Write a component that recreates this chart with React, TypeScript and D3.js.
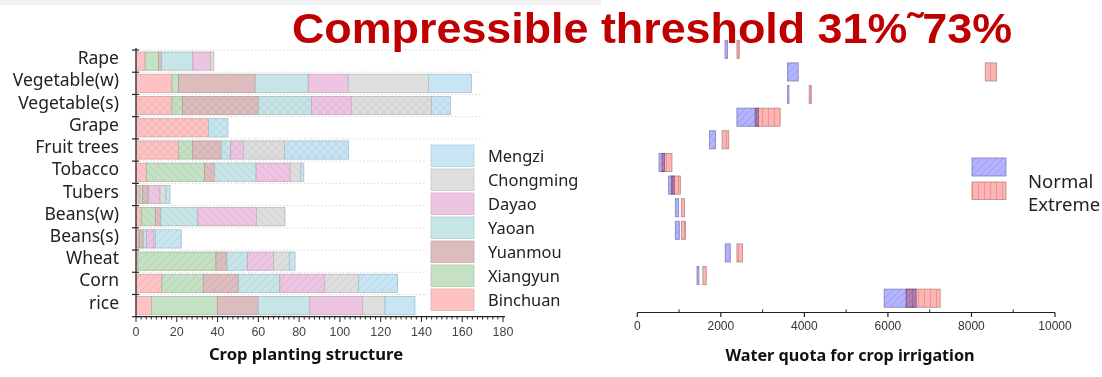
import React from "react";
import * as d3 from "d3";

const crops = ["Rape", "Vegetable(w)", "Vegetable(s)", "Grape", "Fruit trees", "Tobacco", "Tubers", "Beans(w)", "Beans(s)", "Wheat", "Corn", "rice"];
const regions = ["Binchuan", "Xiangyun", "Yuanmou", "Yaoan", "Dayao", "Chongming", "Mengzi"];

const binchuan = [4.5, 17.6, 17.6, 35.6, 20.9, 5.2, 1.6, 2.6, 1.3, 1.0, 12.7, 7.6];
const xiangyun = [6.5, 3.3, 5.2, 0, 6.9, 28.4, 1.6, 7.0, 0.3, 38.2, 20.3, 32.3];
const yuanmou = [1.6, 37.6, 37.3, 0, 14.0, 4.9, 2.5, 2.6, 2.0, 5.4, 17.2, 20.0];
const yaoan = [15.3, 26.0, 26.1, 0, 4.7, 20.4, 0.5, 18.1, 1.6, 10.0, 20.3, 25.4];
const dayao = [8.7, 19.6, 19.6, 0, 6.2, 16.7, 5.6, 28.8, 3.6, 12.9, 21.9, 25.9];
const chongming = [1.6, 39.4, 39.2, 0, 20.1, 5.2, 2.9, 14.0, 0.7, 7.7, 16.8, 10.9];
const mengzi = [0, 21.0, 9.2, 9.5, 31.5, 1.5, 2.0, 0, 12.7, 2.8, 19.1, 14.7];
const regionValues = [binchuan, xiangyun, yuanmou, yaoan, dayao, chongming, mengzi];

const hatchTypes = ["none", "none", "cross", "cross", "cross", "back", "back", "back", "fwd", "fwd", "fwd", "none"];

const leftTicks = [0, 20, 40, 60, 80, 100, 120, 140, 160, 180];

// Water quota ranges [min, max]
const normalMin = [2100, 3596, 3600, 2385, 1730, 520, 750, 910, 910, 2105, 1430, 5910];
const normalMax = [2160, 3852, 3630, 2900, 1870, 650, 885, 990, 1005, 2225, 1475, 6675];
const extremeMin = [2385, 8330, 4115, 2820, 2030, 590, 815, 1055, 1055, 2385, 1570, 6435];
const extremeMax = [2440, 8600, 4165, 3420, 2190, 830, 1030, 1130, 1155, 2520, 1650, 7250];
const rightTicks = [0, 2000, 4000, 6000, 8000, 10000];

const regionColors = ["#ffc2c2", "#c4e1c4", "#dcbcbc", "#c7e4e6", "#edc5e2", "#dedede", "#c8e5f3"];

export default function App() {
  const W = 1102, H = 377;
  const x = d3.scaleLinear().domain([0, 180]).range([136, 503]);
  const y = d3.scaleBand<string>().domain(crops).range([50, 316.7]).paddingInner(0.18).paddingOuter(0.09);
  const step = (316.7 - 50) / crops.length;

  const table = crops.map((c, i) => {
    const o: any = { crop: c };
    regions.forEach((r, j) => (o[r] = regionValues[j][i]));
    return o;
  });
  const stacked = d3.stack().keys(regions)(table as any);

  const xr = d3.scaleLinear().domain([0, 10000]).range([637.3, 1055]);
  const yr = d3.scaleBand<string>().domain(crops).range([35.75, 311.75]).padding(0.2);

  const hatchLines = (type: string, stroke: string) => {
    const s = 8;
    const els: any[] = [];
    if (type === "back" || type === "cross") {
      els.push(<path key="b" d={`M0,0 L${s},${s} M${-s / 2},${s / 2} L${s / 2},${s * 1.5} M${s / 2},${-s / 2} L${s * 1.5},${s / 2}`} stroke={stroke} strokeWidth={0.6} />);
    }
    if (type === "fwd" || type === "cross") {
      els.push(<path key="f" d={`M0,${s} L${s},0 M${-s / 2},${s / 2} L${s / 2},${-s / 2} M${s / 2},${s * 1.5} L${s * 1.5},${s / 2}`} stroke={stroke} strokeWidth={0.6} />);
    }
    return els;
  };

  const patterns: any[] = [];
  ["back", "fwd", "cross"].forEach((t) => {
    regionColors.forEach((c, j) => {
      const dark = d3.color(c)!.darker(0.9).formatHex();
      patterns.push(
        <pattern key={`p-${t}-${j}`} id={`p-${t}-${j}`} width={8} height={8} patternUnits="userSpaceOnUse">
          <rect width={8} height={8} fill={c} />
          <g opacity={0.45}>{hatchLines(t, dark)}</g>
        </pattern>
      );
    });
  });

  const minorLeft = d3.range(0, 180.01, 2.5);
  const minorRight = d3.range(1000, 10000, 2000);
  const font = "'Noto Sans', 'Open Sans', sans-serif";
  const arial = "'Liberation Sans', Arial, sans-serif";

  return (
    <svg width={W} height={H} style={{ position: "absolute", left: 0, top: 0, background: "#fff" }}>
      <defs>
        {patterns}
        <pattern id="blueHatch" width={7} height={7} patternUnits="userSpaceOnUse">
          <rect width={7} height={7} fill="#b3b3ff" />
          <path d="M0,7 L7,0 M-3.5,3.5 L3.5,-3.5 M3.5,10.5 L10.5,3.5" stroke="#6a6ad0" strokeWidth={0.6} opacity={0.6} />
        </pattern>
        <pattern id="redHatch" width={6} height={6} patternUnits="userSpaceOnUse">
          <rect width={6} height={6} fill="#ffb3b3" />
          <path d="M0.5,0 L0.5,6" stroke="#d88484" strokeWidth={0.8} opacity={0.8} />
        </pattern>
      </defs>
      <rect x={0} y={0} width={601} height={5} fill="#f1f1f3" />

      {/* Left chart gridlines */}
      {d3.range(0, crops.length).map((i) => (
        <line key={`g${i}`} x1={136} x2={482} y1={50 + i * step} y2={50 + i * step} stroke="#cfcfcf" strokeWidth={0.8} strokeDasharray="1.5,2" />
      ))}

      {/* Stacked bars */}
      {stacked.map((layer, j) => (
        <g key={regions[j]}>
          {layer.map((d, i) => {
            const w = x(d[1]) - x(d[0]);
            if (w <= 0) return null;
            const t = hatchTypes[i];
            const fill = t === "none" ? regionColors[j] : `url(#p-${t}-${j})`;
            return (
              <rect key={i} x={x(d[0])} y={y(crops[i])} width={w} height={y.bandwidth()} fill={fill}
                stroke={d3.color(regionColors[j])!.darker(0.5).formatHex()} strokeWidth={0.8} />
            );
          })}
        </g>
      ))}

      {/* Left y axis */}
      <line x1={136} x2={136} y1={48} y2={316.7} stroke="#222" strokeWidth={1.2} />
      {d3.range(0, crops.length + 1).map((i) => (
        <line key={`yt${i}`} x1={132} x2={139} y1={50 + i * step} y2={50 + i * step} stroke="#222" strokeWidth={1.2} />
      ))}
      {crops.map((c) => (
        <text key={c} x={119} y={(y(c) as number) + y.bandwidth() / 2 - 3} dy="0.35em" textAnchor="end" fontFamily={font} fontSize={17.5} fill="#222">{c}</text>
      ))}

      {/* Left x axis */}
      <line x1={136} x2={505} y1={316.7} y2={316.7} stroke="#222" strokeWidth={1.2} />
      {minorLeft.map((v) => (
        <line key={`m${v}`} x1={x(v)} x2={x(v)} y1={316.7} y2={v % 20 === 0 ? 322 : 319.5} stroke="#222" strokeWidth={1} />
      ))}
      {leftTicks.map((v) => (
        <text key={`lt${v}`} x={x(v)} y={336} textAnchor="middle" fontFamily={arial} fontSize={12.5} fill="#444">{v}</text>
      ))}
      <text x={306} y={360} textAnchor="middle" fontFamily={font} fontWeight="bold" fontSize={16.6} fill="#111">Crop planting structure</text>

      {/* Left legend */}
      <rect x={427} y={142} width={160} height={172} fill="#fff" />
      {regions.slice().reverse().map((r, k) => {
        const j = regions.length - 1 - k;
        const top = 145 + k * 24;
        return (
          <g key={r}>
            <rect x={431} y={top} width={43} height={21.5} fill={regionColors[j]} stroke={d3.color(regionColors[j])!.darker(0.3).formatHex()} strokeWidth={0.8} />
            <text x={488} y={top + 11} dy="0.35em" fontFamily={font} fontSize={16.4} fill="#222">{r}</text>
          </g>
        );
      })}

      {/* Right chart: water quota ranges */}
      {crops.map((c, i) => (
        <g key={`r${c}`}>
          <rect x={xr(normalMin[i])} y={yr(c)} width={Math.max(1, xr(normalMax[i]) - xr(normalMin[i]))} height={yr.bandwidth()}
            fill="url(#blueHatch)" stroke="#8080b0" strokeWidth={0.8} />
          <rect x={xr(extremeMin[i])} y={yr(c)} width={Math.max(1, xr(extremeMax[i]) - xr(extremeMin[i]))} height={yr.bandwidth()}
            fill="url(#redHatch)" stroke="#b08a8a" strokeWidth={0.8} style={{ mixBlendMode: "multiply" }} />
        </g>
      ))}

      {/* Right x axis */}
      <line x1={637.3} x2={1055} y1={312.5} y2={312.5} stroke="#222" strokeWidth={1.2} />
      {rightTicks.map((v) => (
        <line key={`rt${v}`} x1={xr(v)} x2={xr(v)} y1={312.5} y2={317} stroke="#222" strokeWidth={1.2} />
      ))}
      {minorRight.map((v) => (
        <line key={`rm${v}`} x1={xr(v)} x2={xr(v)} y1={312.5} y2={309.5} stroke="#222" strokeWidth={1} />
      ))}
      {rightTicks.map((v) => (
        <text key={`rl${v}`} x={xr(v)} y={330} textAnchor="middle" fontFamily={arial} fontSize={12} fill="#333">{v}</text>
      ))}
      <text x={850} y={361} textAnchor="middle" fontFamily={font} fontWeight="bold" fontSize={16.2} fill="#111">Water quota for crop irrigation</text>

      {/* Right legend */}
      <rect x={972} y={158} width={34} height={18} fill="url(#blueHatch)" stroke="#8080b0" strokeWidth={0.8} />
      <rect x={972} y={182} width={34} height={17.5} fill="url(#redHatch)" stroke="#b08a8a" strokeWidth={0.8} />
      <text x={1028} y={188} fontFamily={font} fontSize={18.5} fill="#222">Normal</text>
      <text x={1028} y={211} fontFamily={font} fontSize={18.5} fill="#222">Extreme</text>

      {/* Title */}
      <text x={292} y={43} fontFamily={arial} fontWeight="bold" fontSize={43} fill="#c00000" textLength={720} lengthAdjust="spacingAndGlyphs">Compressible threshold 31%˜73%</text>
    </svg>
  );
}
